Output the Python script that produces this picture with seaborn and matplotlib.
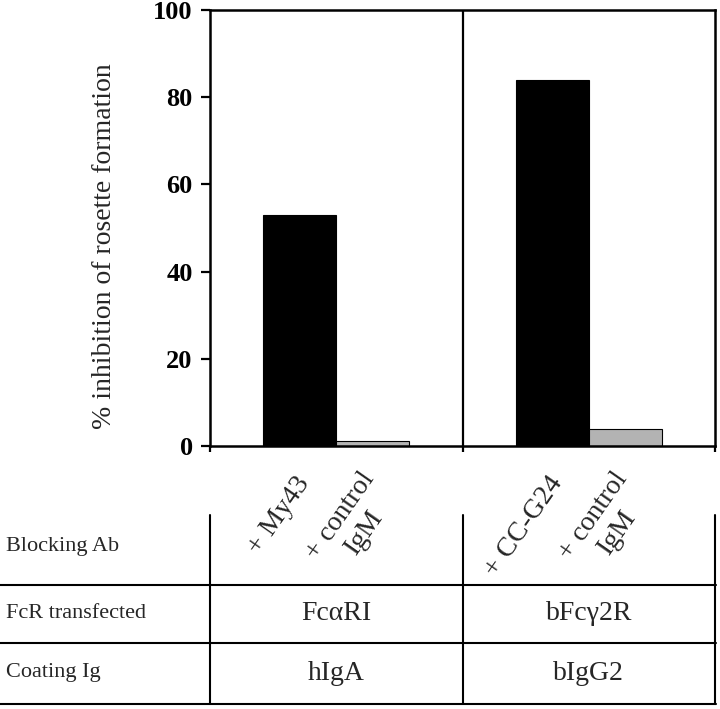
import pandas as pd
import seaborn as sns
import matplotlib.pyplot as plt
import matplotlib.transforms as mtransforms
from matplotlib.lines import Line2D

# datos del grafico
receptores = ["FcαRI", "bFcγ2R"]
coating = ["hIgA", "bIgG2"]
tipo_ab = ["specific", "control"]
blocking = [["+ My43", "+ control\nIgM"], ["+ CC-G24", "+ control\nIgM"]]
inhibicion = [[53, 1.2], [84, 4]]
filas = ["Blocking Ab", "FcR transfected", "Coating Ig"]
yticks = [0, 20, 40, 60, 80, 100]

df = pd.DataFrame({
    "receptor": [r for r in receptores for _ in tipo_ab],
    "antibody": tipo_ab * len(receptores),
    "inhibition": [v for fila in inhibicion for v in fila],
})

sns.set_style("ticks")
plt.rcParams["font.family"] = ["Liberation Serif", "DejaVu Serif"]

W, H = 720, 709
fig = plt.figure(figsize=(W / 100, H / 100), dpi=100)
ax = fig.add_axes([210 / W, 1 - 446 / H, 505 / W, 436 / H])

sns.barplot(data=df, x="receptor", y="inhibition", hue="antibody",
            order=receptores, hue_order=tipo_ab, palette=["black", "#b3b3b3"],
            width=0.58, edgecolor="black", linewidth=0.8, errorbar=None,
            legend=False, ax=ax)

ax.set_xlim(-0.5, 1.5)
ax.set_ylim(0, 100)
ax.axvline(0.5, color="black", lw=1.6)
for s in ax.spines.values():
    s.set_linewidth(1.8)
    s.set_color("black")
    s.set_visible(True)

ax.set_yticks(yticks)
ax.set_yticklabels([str(t) for t in yticks], fontsize=19, fontweight="bold")
ax.tick_params(axis="y", direction="out", length=6.5, width=1.6, pad=6, colors="black")
ax.set_xticks([-0.5, 0.5, 1.5])
ax.set_xticklabels([])
ax.tick_params(axis="x", direction="out", length=4.5, width=1.6, colors="black")
ax.set_xlabel("")
ax.set_ylabel("% inhibition of rosette formation", fontsize=20, va="center")
ax.yaxis.set_label_coords(-0.208, 0.459)

# etiquetas rotadas bajo cada barra
ajuste = {"specific": (-3.5, -0.060), "control": (-9.5, -0.049)}
for i, cont in enumerate(ax.containers):
    dx, yy = ajuste[tipo_ab[i]]
    tr = mtransforms.offset_copy(
        mtransforms.blended_transform_factory(ax.transData, ax.transAxes),
        fig=fig, x=dx, y=0, units="points")
    for j, bar in enumerate(cont):
        xc = bar.get_x() + bar.get_width() / 2
        ax.text(xc, yy, blocking[j][i], transform=tr, rotation=55,
                rotation_mode="anchor", ha="right", va="top",
                multialignment="center", fontsize=20, clip_on=False)

# tabla de abajo
def fy(py):
    return 1 - py / H

lw_t = 1.5
for py in [585, 643, 704]:
    fig.add_artist(Line2D([0, 716 / W], [fy(py), fy(py)], transform=fig.transFigure,
                          color="black", lw=lw_t))
bt = mtransforms.blended_transform_factory(ax.transData, fig.transFigure)
for xv in [-0.5, 0.5, 1.5]:
    fig.add_artist(Line2D([xv, xv], [fy(515), fy(704)], transform=bt,
                          color="black", lw=lw_t))

for nombre, py in zip(filas, [547, 614, 673]):
    fig.text(6 / W, fy(py), nombre, fontsize=16, ha="left", va="center")
for k in range(len(receptores)):
    fig.text(k, fy(614), receptores[k], transform=bt, fontsize=20, ha="center", va="center")
    fig.text(k, fy(673), coating[k], transform=bt, fontsize=20, ha="center", va="center")

fig.savefig("out.png", dpi=100)
